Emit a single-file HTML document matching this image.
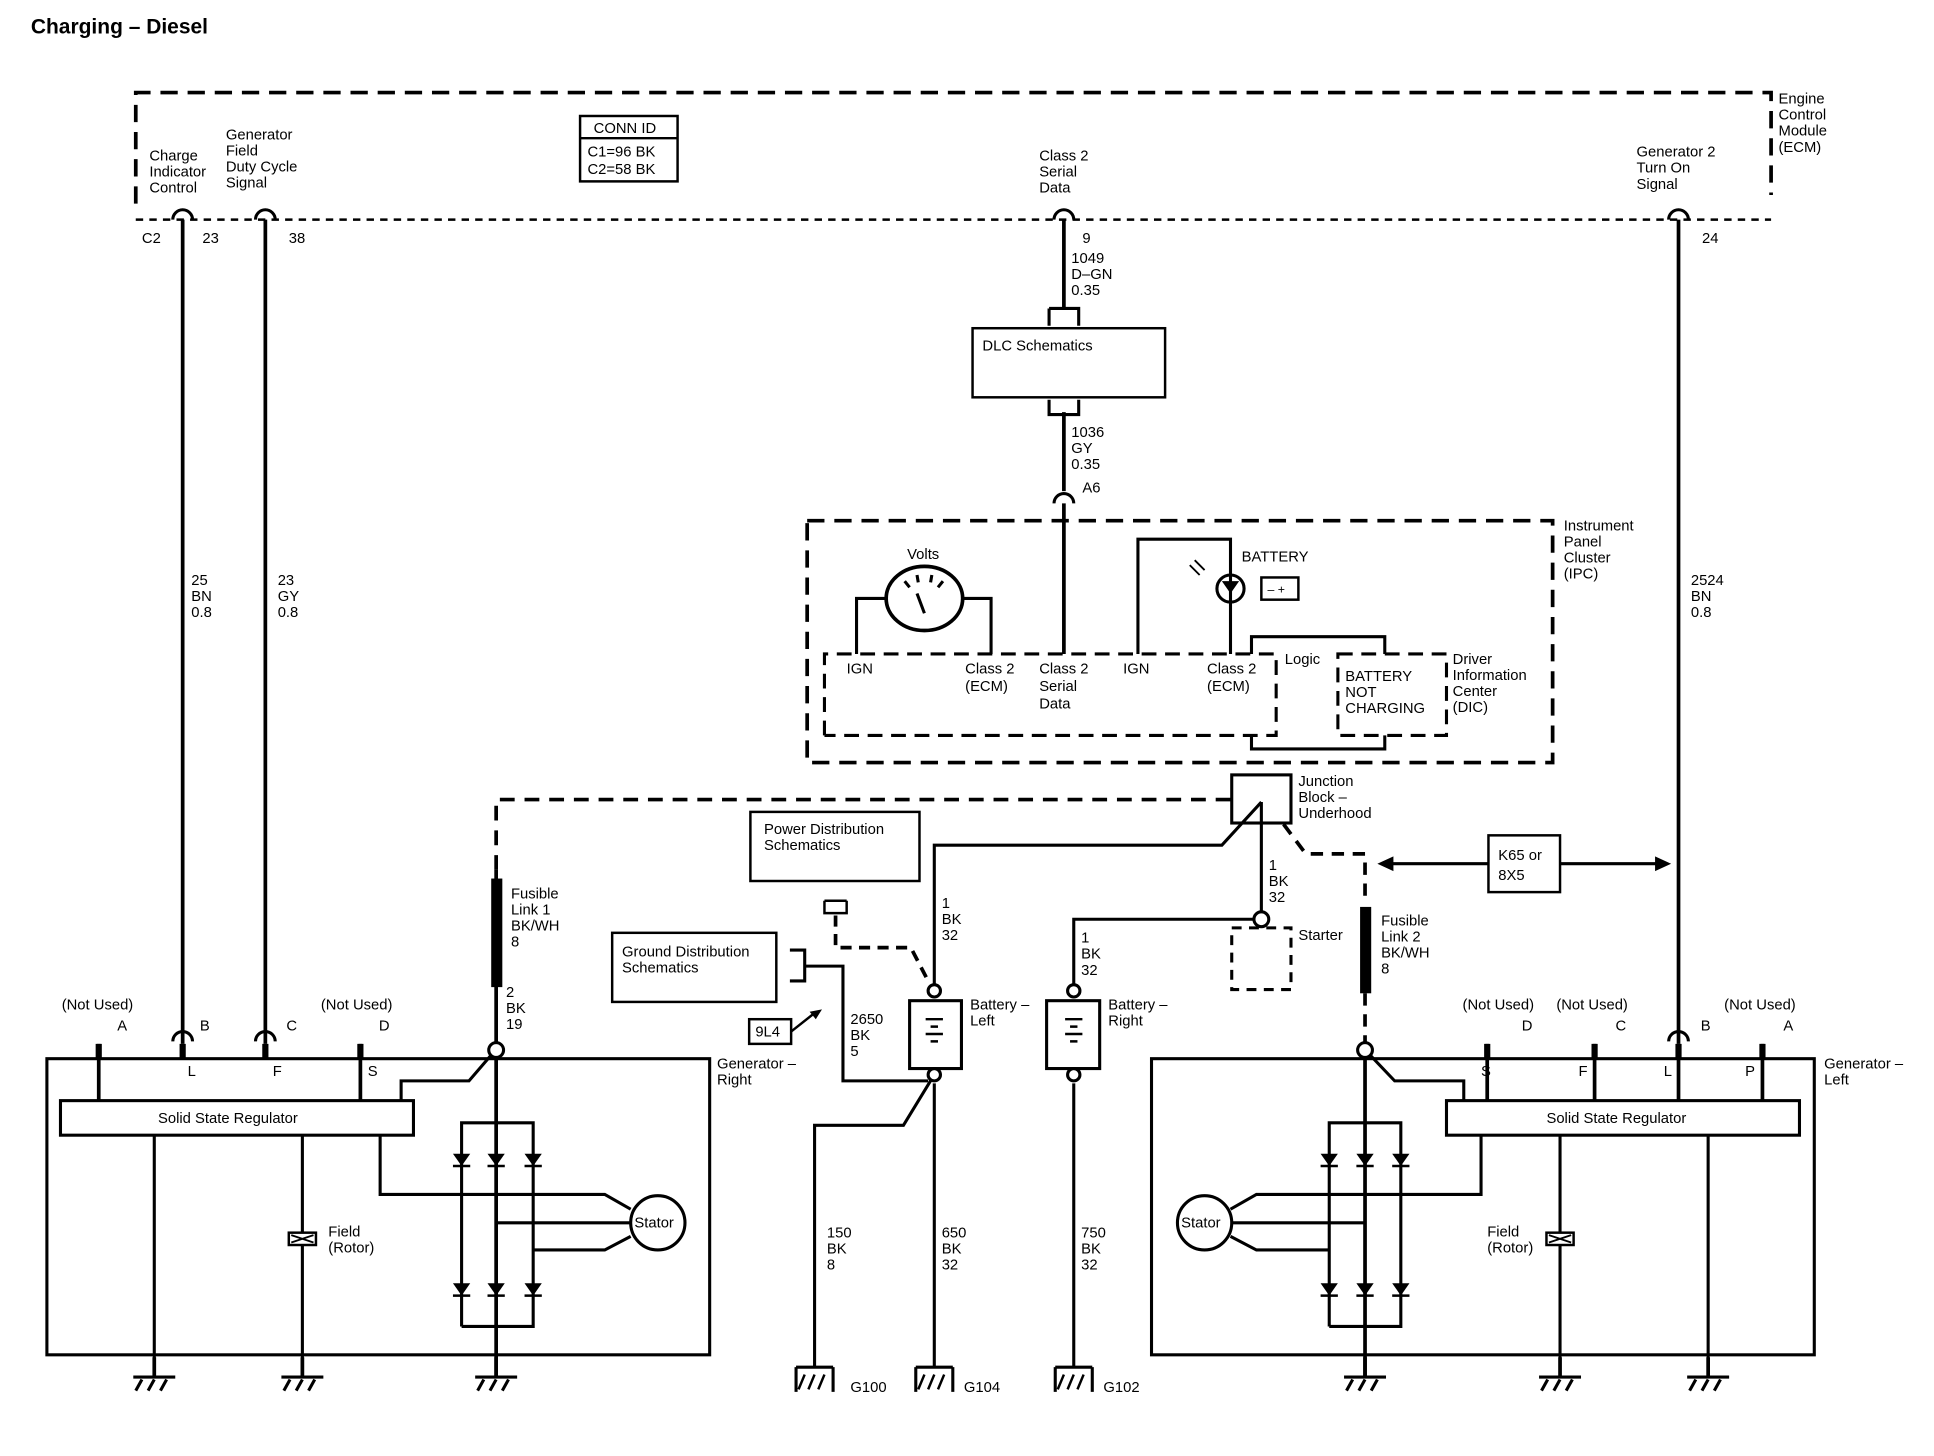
<!DOCTYPE html>
<html><head><meta charset="utf-8"><style>
html,body{margin:0;padding:0;background:#fff;}
svg{display:block;}
text{font-family:"Liberation Sans",sans-serif;font-size:12px;fill:#000;}
</style></head><body>
<svg width="1934" height="1456" viewBox="0 0 1567 1180" preserveAspectRatio="none" xmlns="http://www.w3.org/2000/svg">
<defs>
<g id="gnd"><line x1="0" y1="0" x2="0" y2="16" stroke="#000" stroke-width="3"/><line x1="-17" y1="16" x2="17" y2="16" stroke="#000" stroke-width="2.5"/><path d="M-10 18 l-5 9 M0 18 l-5 9 M10 18 l-5 9" stroke="#000" stroke-width="2.5"/></g>
<g id="dio"><path d="M-7 -5 h14 l-7 10 z" fill="#000"/><line x1="-7" y1="5" x2="7" y2="5" stroke="#000" stroke-width="2"/></g>
<g id="conn"><path d="M-8 6 a8 8 0 0 1 16 0" fill="none" stroke="#000" stroke-width="2.5"/></g>
<g id="gb"><path d="M-15 0 v20 M15 0 v20 M-15 0 h30" stroke="#000" stroke-width="2.5" fill="none"/><path d="M-8 6 l-5 12 M0 6 l-5 12 M8 6 l-5 12" stroke="#000" stroke-width="2"/></g>
</defs>
<g fill="none" stroke="#000">
<path d="M110 165 V75 H1435 V158" stroke-width="3" stroke-dasharray="14 8"/>
<line x1="110" y1="178" x2="1435" y2="178" stroke-width="2" stroke-dasharray="6 5"/>
<rect x="470" y="94" width="79" height="53" stroke-width="2"/>
<line x1="470" y1="112" x2="549" y2="112" stroke-width="2"/>
<path d="M148 178 V846 M215 178 V846 M862 178 V250 M1360 178 V846 M862 334 V398 M862 408 V530" stroke-width="3"/>
<path d="M850 250 h24 v14 M850 250 v14 M850 324 v12 h24 v-12" stroke-width="2.5"/>
<rect x="788" y="266" width="156" height="56" stroke-width="2"/>
<rect x="654" y="422" width="604" height="196" stroke-width="3" stroke-dasharray="14 8"/>
<path d="M668 596 V530 H1034 V596 H668" stroke-width="2.5" stroke-dasharray="12 7"/>
<rect x="1084" y="530" width="88" height="66" stroke-width="2.5" stroke-dasharray="12 7"/>
<path d="M1014 596 V607 H1122 V596 M1014 530 V516 H1122 V530" stroke-width="2.5"/>
<ellipse cx="749" cy="485" rx="31" ry="26" stroke-width="3"/>
<path d="M718 485 H694 V530 M780 485 H803 V530" stroke-width="2.5"/>
<path d="M749 497 l-6 -16 M737 476 l-4 -5 M744 472 l-1 -6 M754 472 l1 -6 M760 476 l4 -5" stroke-width="2.5"/>
<path d="M922 530 V437 H997 V530" stroke-width="2.5"/>
<circle cx="997" cy="477" r="11" stroke-width="2.5"/>
<rect x="1022" y="468" width="30" height="18" stroke-width="2"/>
<path d="M976 462 l-8 -8 M972 466 l-8 -8" stroke-width="1.5"/>
<rect x="998" y="628" width="48" height="39" stroke-width="2.5"/>
<path d="M1022 650 L990 685 H757 V803" stroke-width="2.5"/>
<path d="M1022 650 V740 M1016 745 H870 V803" stroke-width="2.5"/>
<circle cx="1022" cy="745" r="6" stroke-width="2.5" fill="#fff"/>
<rect x="998" y="752" width="48" height="50" stroke-width="2.5" stroke-dasharray="8 6"/>
<path d="M1040 668 L1058 692 H1106 V730" stroke-width="3" stroke-dasharray="10 7"/>
<path d="M1106 805 V850" stroke-width="3" stroke-dasharray="10 7"/>
<path d="M402 705 V648 H998" stroke-width="3" stroke-dasharray="12 8"/>
<rect x="1206" y="677" width="58" height="46" stroke-width="2"/>
<path d="M1128 700 H1206 M1264 700 H1342" stroke-width="2.5"/>
<rect x="608" y="658" width="137" height="56" stroke-width="2"/>
<path d="M668 730 h18 M668 730 v10 h18 v-10" stroke-width="2"/>
<path d="M677 742 V768 H738 L752 795" stroke-width="3" stroke-dasharray="9 6"/>
<rect x="496" y="756" width="133" height="56" stroke-width="2"/>
<path d="M640 770 h12 v25 h-12 M652 783 H683 V876 H752" stroke-width="2.5"/>
<rect x="607" y="826" width="34" height="20" stroke-width="2"/>
<path d="M641 836 L660 821" stroke-width="2"/>
<path d="M757 871 L732 912 H660 V1108 M757 878 V1108 M870 878 V1108" stroke-width="2.5"/>
<rect x="737" y="811" width="42" height="55" stroke-width="2.5"/>
<rect x="848" y="811" width="43" height="55" stroke-width="2.5"/>
<path d="M750 826 h14 M754 832 h6 M750 838 h14 M754 844 h6 M863 826 h14 M867 832 h6 M863 838 h14 M867 844 h6" stroke-width="2"/>
<circle cx="757" cy="803" r="5" stroke-width="2.5" fill="#fff"/>
<circle cx="757" cy="871" r="5" stroke-width="2.5" fill="#fff"/>
<circle cx="870" cy="803" r="5" stroke-width="2.5" fill="#fff"/>
<circle cx="870" cy="871" r="5" stroke-width="2.5" fill="#fff"/>
<rect x="38" y="858" width="537" height="240" stroke-width="2.5"/>
<rect x="49" y="892" width="286" height="28" stroke-width="2.5"/>
<path d="M80 846 V892 M292 846 V892" stroke-width="3"/>
<path d="M80 846 v12 M148 846 v12 M215 846 v12 M292 846 v12" stroke-width="5"/>
<path d="M402 705 V1115" stroke-width="3"/>
<path d="M325 892 V876 H380 L398 855" stroke-width="2.5"/>
<path d="M374 1075 V910 H432 V1075 H374" stroke-width="2.5"/>
<path d="M308 920 V968 H490 L511 980 M402 991 H511 M432 1013 H490 L511 1002" stroke-width="2.5"/>
<circle cx="533" cy="991" r="22" stroke-width="2.5" fill="#fff"/>
<path d="M125 920 V1115 M245 920 V1115" stroke-width="2.5"/>
<rect x="234" y="999" width="22" height="10" stroke-width="2" fill="#fff"/>
<path d="M236 1001 l18 6 M236 1007 l18 -6" stroke-width="1.5"/>
<circle cx="402" cy="851" r="6" stroke-width="2.5" fill="#fff"/>
<rect x="933" y="858" width="537" height="240" stroke-width="2.5"/>
<rect x="1172" y="892" width="286" height="28" stroke-width="2.5"/>
<path d="M1205 846 V892 M1292 846 V892 M1428 846 V892 M1360 846 V892" stroke-width="3"/>
<path d="M1205 846 v12 M1292 846 v12 M1360 846 v12 M1428 846 v12" stroke-width="5"/>
<path d="M1106 856 V1115" stroke-width="3"/>
<path d="M1186 892 V876 H1130 L1110 855" stroke-width="2.5"/>
<path d="M1077 1075 V910 H1135 V1075 H1077" stroke-width="2.5"/>
<path d="M1200 920 V968 H1018 L997 980 M1106 991 H997 M1077 1013 H1018 L997 1002" stroke-width="2.5"/>
<circle cx="976" cy="991" r="22" stroke-width="2.5" fill="#fff"/>
<path d="M1264 920 V1115 M1384 920 V1115" stroke-width="2.5"/>
<rect x="1253" y="999" width="22" height="10" stroke-width="2" fill="#fff"/>
<path d="M1255 1001 l18 6 M1255 1007 l18 -6" stroke-width="1.5"/>
<circle cx="1106" cy="851" r="6" stroke-width="2.5" fill="#fff"/>
</g>
<path d="M1116 700 l13 -6 v12 z M1354 700 l-13 -6 v12 z" fill="#000"/>
<rect x="398" y="712" width="9" height="88" fill="#000"/>
<rect x="1102" y="735" width="9" height="70" fill="#000"/>
<path d="M666 818 l-10 2 l5 6 z" fill="#000"/>
<use href="#conn" x="148" y="172"/><use href="#conn" x="215" y="172"/><use href="#conn" x="862" y="172"/><use href="#conn" x="1360" y="172"/>
<use href="#conn" x="862" y="402"/>
<use href="#conn" x="148" y="838"/><use href="#conn" x="215" y="838"/><use href="#conn" x="1360" y="838"/>
<use href="#dio" x="374" y="940"/><use href="#dio" x="402" y="940"/><use href="#dio" x="432" y="940"/>
<use href="#dio" x="374" y="1045"/><use href="#dio" x="402" y="1045"/><use href="#dio" x="432" y="1045"/>
<use href="#dio" x="1077" y="940"/><use href="#dio" x="1106" y="940"/><use href="#dio" x="1135" y="940"/>
<use href="#dio" x="1077" y="1045"/><use href="#dio" x="1106" y="1045"/><use href="#dio" x="1135" y="1045"/>
<path d="M990 471 h14 l-7 10 z" fill="#000"/>
<use href="#gnd" x="125" y="1100"/><use href="#gnd" x="245" y="1100"/><use href="#gnd" x="402" y="1100"/>
<use href="#gnd" x="1106" y="1100"/><use href="#gnd" x="1264" y="1100"/><use href="#gnd" x="1384" y="1100"/>
<use href="#gb" x="660" y="1108"/><use href="#gb" x="757" y="1108"/><use href="#gb" x="870" y="1108"/>
<text x="25" y="27" style="font-size:17px;font-weight:bold">Charging – Diesel</text>
<text x="1441" y="84">Engine</text><text x="1441" y="97">Control</text><text x="1441" y="110">Module</text><text x="1441" y="123">(ECM)</text>
<text x="121" y="130">Charge</text><text x="121" y="143">Indicator</text><text x="121" y="156">Control</text>
<text x="183" y="113">Generator</text><text x="183" y="126">Field</text><text x="183" y="139">Duty Cycle</text><text x="183" y="152">Signal</text>
<text x="481" y="108">CONN ID</text><text x="476" y="127">C1=96 BK</text><text x="476" y="141">C2=58 BK</text>
<text x="842" y="130">Class 2</text><text x="842" y="143">Serial</text><text x="842" y="156">Data</text>
<text x="1326" y="127">Generator 2</text><text x="1326" y="140">Turn On</text><text x="1326" y="153">Signal</text>
<text x="115" y="197">C2</text><text x="164" y="197">23</text><text x="234" y="197">38</text><text x="877" y="197">9</text><text x="1379" y="197">24</text>
<text x="868" y="213">1049</text><text x="868" y="226">D–GN</text><text x="868" y="239">0.35</text>
<text x="796" y="284">DLC Schematics</text>
<text x="868" y="354">1036</text><text x="868" y="367">GY</text><text x="868" y="380">0.35</text><text x="877" y="399">A6</text>
<text x="1267" y="430">Instrument</text><text x="1267" y="443">Panel</text><text x="1267" y="456">Cluster</text><text x="1267" y="469">(IPC)</text>
<text x="155" y="474">25</text><text x="155" y="487">BN</text><text x="155" y="500">0.8</text>
<text x="225" y="474">23</text><text x="225" y="487">GY</text><text x="225" y="500">0.8</text>
<text x="1370" y="474">2524</text><text x="1370" y="487">BN</text><text x="1370" y="500">0.8</text>
<text x="735" y="453">Volts</text><text x="1006" y="455">BATTERY</text>
<text x="1027" y="481" style="font-size:10px">– +</text>
<text x="686" y="546">IGN</text><text x="782" y="546">Class 2</text><text x="782" y="560">(ECM)</text>
<text x="842" y="546">Class 2</text><text x="842" y="560">Serial</text><text x="842" y="574">Data</text>
<text x="910" y="546">IGN</text><text x="978" y="546">Class 2</text><text x="978" y="560">(ECM)</text>
<text x="1041" y="538">Logic</text>
<text x="1090" y="552">BATTERY</text><text x="1090" y="565">NOT</text><text x="1090" y="578">CHARGING</text>
<text x="1177" y="538">Driver</text><text x="1177" y="551">Information</text><text x="1177" y="564">Center</text><text x="1177" y="577">(DIC)</text>
<text x="1052" y="637">Junction</text><text x="1052" y="650">Block –</text><text x="1052" y="663">Underhood</text>
<text x="619" y="676">Power Distribution</text><text x="619" y="689">Schematics</text>
<text x="1214" y="697">K65 or</text><text x="1214" y="713">8X5</text>
<text x="1028" y="705">1</text><text x="1028" y="718">BK</text><text x="1028" y="731">32</text>
<text x="763" y="736">1</text><text x="763" y="749">BK</text><text x="763" y="762">32</text>
<text x="876" y="764">1</text><text x="876" y="777">BK</text><text x="876" y="790">32</text>
<text x="414" y="728">Fusible</text><text x="414" y="741">Link 1</text><text x="414" y="754">BK/WH</text><text x="414" y="767">8</text>
<text x="1119" y="750">Fusible</text><text x="1119" y="763">Link 2</text><text x="1119" y="776">BK/WH</text><text x="1119" y="789">8</text>
<text x="1052" y="762">Starter</text>
<text x="504" y="775">Ground Distribution</text><text x="504" y="788">Schematics</text>
<text x="410" y="808">2</text><text x="410" y="821">BK</text><text x="410" y="834">19</text>
<text x="612" y="840">9L4</text>
<text x="689" y="830">2650</text><text x="689" y="843">BK</text><text x="689" y="856">5</text>
<text x="786" y="818">Battery –</text><text x="786" y="831">Left</text>
<text x="898" y="818">Battery –</text><text x="898" y="831">Right</text>
<text x="50" y="818">(Not Used)</text><text x="95" y="835">A</text><text x="162" y="835">B</text><text x="232" y="835">C</text>
<text x="260" y="818">(Not Used)</text><text x="307" y="835">D</text>
<text x="1185" y="818">(Not Used)</text><text x="1261" y="818">(Not Used)</text><text x="1397" y="818">(Not Used)</text>
<text x="1233" y="835">D</text><text x="1309" y="835">C</text><text x="1378" y="835">B</text><text x="1445" y="835">A</text>
<text x="152" y="872">L</text><text x="221" y="872">F</text><text x="298" y="872">S</text>
<text x="1200" y="872">S</text><text x="1279" y="872">F</text><text x="1348" y="872">L</text><text x="1414" y="872">P</text>
<text x="581" y="866">Generator –</text><text x="581" y="879">Right</text>
<text x="1478" y="866">Generator –</text><text x="1478" y="879">Left</text>
<text x="128" y="910">Solid State Regulator</text><text x="1253" y="910">Solid State Regulator</text>
<text x="514" y="995">Stator</text><text x="957" y="995">Stator</text>
<text x="266" y="1002">Field</text><text x="266" y="1015">(Rotor)</text>
<text x="1205" y="1002">Field</text><text x="1205" y="1015">(Rotor)</text>
<text x="670" y="1003">150</text><text x="670" y="1016">BK</text><text x="670" y="1029">8</text>
<text x="763" y="1003">650</text><text x="763" y="1016">BK</text><text x="763" y="1029">32</text>
<text x="876" y="1003">750</text><text x="876" y="1016">BK</text><text x="876" y="1029">32</text>
<text x="689" y="1128">G100</text><text x="781" y="1128">G104</text><text x="894" y="1128">G102</text>
</svg>
</body></html>
